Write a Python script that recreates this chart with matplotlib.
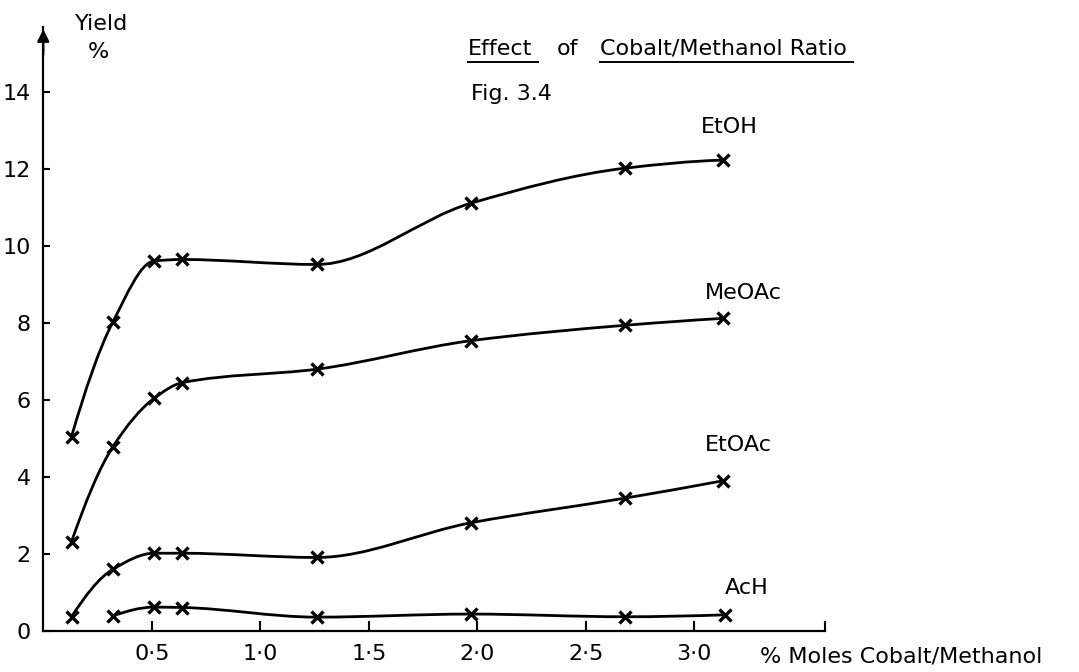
import numpy as np
import matplotlib
matplotlib.use("Agg")
import matplotlib.pyplot as plt
from matplotlib.path import Path
from matplotlib.patches import PathPatch
from matplotlib.lines import Line2D

# ---- data ----
ratio = [0.13, 0.32, 0.51, 0.64, 1.26, 1.97, 2.68, 3.13]
etoh = [5.05, 8.02, 9.61, 9.65, 9.52, 11.11, 12.02, 12.23]
meoac = [2.32, 4.78, 6.04, 6.45, 6.80, 7.54, 7.94, 8.12]
etoac = [0.37, 1.60, 2.02, 2.02, 1.91, 2.81, 3.45, 3.90]
ach_ratio = [0.32, 0.51, 0.64, 1.26, 1.97, 2.68, 3.14]
ach = [0.39, 0.62, 0.61, 0.36, 0.44, 0.37, 0.42]

series_names = ["EtOH", "MeOAc", "EtOAc", "AcH"]
x_ticks = [0.5, 1.0, 1.5, 2.0, 2.5, 3.0]
x_tick_labels = ["0·5", "1·0", "1·5", "2·0", "2·5", "3·0"]
y_ticks = [0, 2, 4, 6, 8, 10, 12, 14]
y_tick_labels = ["0", "2", "4", "6", "8", "10", "12", "14"]

plt.rcParams['font.family'] = ['DejaVu Sans']
FS = 16

W, H = 1079, 672
fig = plt.figure(figsize=(W / 100, H / 100), dpi=100)
x0_px, y0_px = 43.3, 631.0
px_per_x, px_per_y = 217.0, 38.5
xmax, ymax = 3.6, 15.7
ax = fig.add_axes([x0_px / W, 1 - y0_px / H, xmax * px_per_x / W, ymax * px_per_y / H])
ax.set_xlim(0, xmax)
ax.set_ylim(0, ymax)
ax.patch.set_alpha(0)

for s in ["top", "right"]:
    ax.spines[s].set_visible(False)
ax.spines["left"].set_linewidth(1.6)
ax.spines["bottom"].set_linewidth(1.6)

ax.set_xticks(x_ticks + [xmax])
ax.set_xticklabels(x_tick_labels + [""], fontsize=FS)
ax.set_yticks(y_ticks)
ax.set_yticklabels(y_tick_labels, fontsize=FS)
ax.tick_params(axis="x", direction="in", length=7, width=1.5, pad=9)
ax.tick_params(axis="y", direction="in", length=5, width=1.5, pad=9)

# arrow on y axis
ax.annotate("", xy=(0, ymax), xytext=(0, ymax - 0.8),
            arrowprops=dict(arrowstyle="-|>", color="k", lw=1.6, mutation_scale=18),
            annotation_clip=False)


def pchip_slopes(x, y):
    h = np.diff(x)
    d = np.diff(y) / h
    n = len(x)
    m = np.zeros(n)
    for k in range(1, n - 1):
        if d[k - 1] * d[k] <= 0:
            m[k] = 0.0
        else:
            w1 = 2 * h[k] + h[k - 1]
            w2 = h[k] + 2 * h[k - 1]
            m[k] = (w1 + w2) / (w1 / d[k - 1] + w2 / d[k])
    # end slopes
    m[0] = ((2 * h[0] + h[1]) * d[0] - h[0] * d[1]) / (h[0] + h[1]) if n > 2 else d[0]
    if np.sign(m[0]) != np.sign(d[0]):
        m[0] = 0.0
    m[-1] = ((2 * h[-1] + h[-2]) * d[-1] - h[-1] * d[-2]) / (h[-1] + h[-2]) if n > 2 else d[-1]
    if np.sign(m[-1]) != np.sign(d[-1]):
        m[-1] = 0.0
    return m


def smooth_path(xs, ys):
    x = np.asarray(xs, float)
    y = np.asarray(ys, float)
    m = pchip_slopes(x, y)
    verts = [(x[0], y[0])]
    codes = [Path.MOVETO]
    for i in range(len(x) - 1):
        dx = x[i + 1] - x[i]
        verts += [(x[i] + dx / 3, y[i] + m[i] * dx / 3),
                  (x[i + 1] - dx / 3, y[i + 1] - m[i + 1] * dx / 3),
                  (x[i + 1], y[i + 1])]
        codes += [Path.CURVE4] * 3
    return Path(verts, codes)


all_series = [(ratio, etoh), (ratio, meoac), (ratio, etoac), (ach_ratio, ach)]
for xs, ys in all_series:
    ax.add_patch(PathPatch(smooth_path(xs, ys), fill=False, lw=2.0, ec="black",
                           capstyle="round", joinstyle="round"))
    ax.plot(xs, ys, ls="none", marker="x", ms=8, mew=2.4, color="black")

label_pos = [(3.03, 13.09), (3.05, 8.78), (3.05, 4.83), (3.14, 1.12)]
for name, (lx, ly) in zip(series_names, label_pos):
    ax.text(lx, ly, name, fontsize=FS, ha="left", va="center", clip_on=False)

# axis titles
fig.text(102 / W, 1 - 24 / H, "Yield", fontsize=FS, ha="center", va="center")
fig.text(98 / W, 1 - 52 / H, "%", fontsize=FS, ha="center", va="center")
fig.text(760 / W, 1 - 656 / H, "% Moles Cobalt/Methanol", fontsize=FS, ha="left", va="center")

# title with underlines
ty = 1 - 49 / H
t1 = fig.text(468 / W, ty, "Effect", fontsize=FS, ha="left", va="center")
t2 = fig.text(557 / W, ty, "of", fontsize=FS, ha="left", va="center")
t3 = fig.text(600 / W, ty, "Cobalt/Methanol Ratio", fontsize=FS, ha="left", va="center")
fig.text(471 / W, 1 - 94 / H, "Fig. 3.4", fontsize=FS, ha="left", va="center")

fig.canvas.draw()
r = fig.canvas.get_renderer()
uy = 1 - 62 / H
for t in (t1, t3):
    bb = t.get_window_extent(r)
    fig.add_artist(Line2D([bb.x0 / W, (bb.x1 + 6) / W], [uy, uy], color="black", lw=1.4))

fig.savefig("out.png", dpi=100)
